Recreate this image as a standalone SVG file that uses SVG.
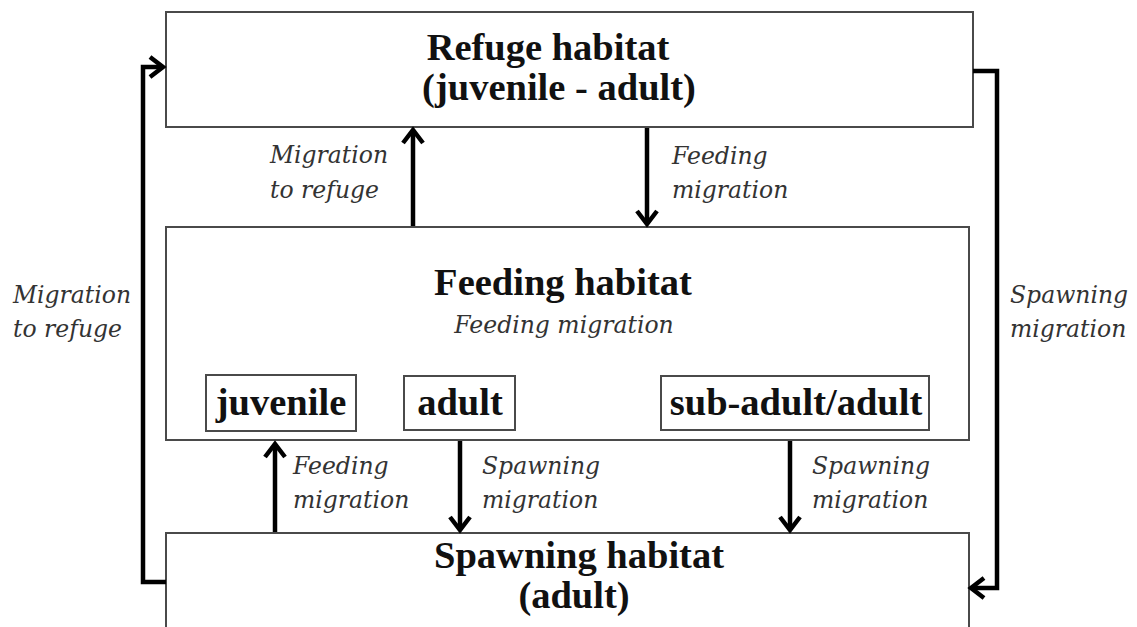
<svg xmlns="http://www.w3.org/2000/svg" width="1137" height="627" viewBox="0 0 1137 627">
<style>
.box{fill:#fff;stroke:#4a4a4a;stroke-width:2}
.title{font-family:"Liberation Serif","Times New Roman",serif;font-weight:bold;font-size:38.5px;fill:#111;text-anchor:middle}
.lbl{font-family:"DejaVu Serif",serif;font-style:italic;font-size:23.5px;fill:#333}
.conn{fill:none;stroke:#000;stroke-width:4.5}
</style>
<defs>
<marker id="ah" markerUnits="userSpaceOnUse" viewBox="-16 -14 20 28" markerWidth="20" markerHeight="28" refX="0" refY="0" orient="auto">
<path d="M-13,-10 L0,0 L-13,10" fill="none" stroke="#000" stroke-width="4.5" stroke-linejoin="miter"/>
</marker>
</defs>
<rect width="1137" height="627" fill="#fff"/>
<g id="refuge">
<rect class="box" x="166" y="12" width="807" height="115"/>
<text class="title" x="548" y="60">Refuge habitat</text>
<text class="title" x="559" y="100">(juvenile - adult)</text>
</g>
<g id="feeding">
<rect class="box" x="166" y="227" width="803" height="213"/>
<text class="title" x="563" y="295">Feeding habitat</text>
<text class="lbl" x="564" y="333" text-anchor="middle">Feeding migration</text>
</g>
<g id="juvenile">
<rect class="box" x="206" y="375" width="150" height="56"/>
<text class="title" x="281" y="415">juvenile</text>
</g>
<g id="adult">
<rect class="box" x="404" y="376" width="111" height="54"/>
<text class="title" x="460" y="415">adult</text>
</g>
<g id="subadult">
<rect class="box" x="661" y="376" width="268" height="54"/>
<text class="title" x="796" y="415">sub-adult/adult</text>
</g>
<g id="spawning">
<rect class="box" x="166" y="533" width="803" height="110"/>
<text class="title" x="579" y="568">Spawning habitat</text>
<text class="title" x="574" y="608">(adult)</text>
</g>
<g id="connectors">
<path class="conn" d="M166,582 H143 V67 H163" marker-end="url(#ah)"/>
<path class="conn" d="M973,71 H997 V588 H971" marker-end="url(#ah)"/>
<path class="conn" d="M413,226 V130" marker-end="url(#ah)"/>
<path class="conn" d="M647,128 V224" marker-end="url(#ah)"/>
<path class="conn" d="M275,532 V444" marker-end="url(#ah)"/>
<path class="conn" d="M460,441 V530" marker-end="url(#ah)"/>
<path class="conn" d="M790,441 V530" marker-end="url(#ah)"/>
<text class="lbl" x="270" y="163">Migration</text>
<text class="lbl" x="270" y="198">to refuge</text>
<text class="lbl" x="672" y="164">Feeding</text>
<text class="lbl" x="672" y="198">migration</text>
<text class="lbl" x="13" y="303">Migration</text>
<text class="lbl" x="13" y="337">to refuge</text>
<text class="lbl" x="1010" y="303">Spawning</text>
<text class="lbl" x="1010" y="337">migration</text>
<text class="lbl" x="293" y="474">Feeding</text>
<text class="lbl" x="293" y="508">migration</text>
<text class="lbl" x="482" y="474">Spawning</text>
<text class="lbl" x="482" y="508">migration</text>
<text class="lbl" x="812" y="474">Spawning</text>
<text class="lbl" x="812" y="508">migration</text>
</g>
</svg>
